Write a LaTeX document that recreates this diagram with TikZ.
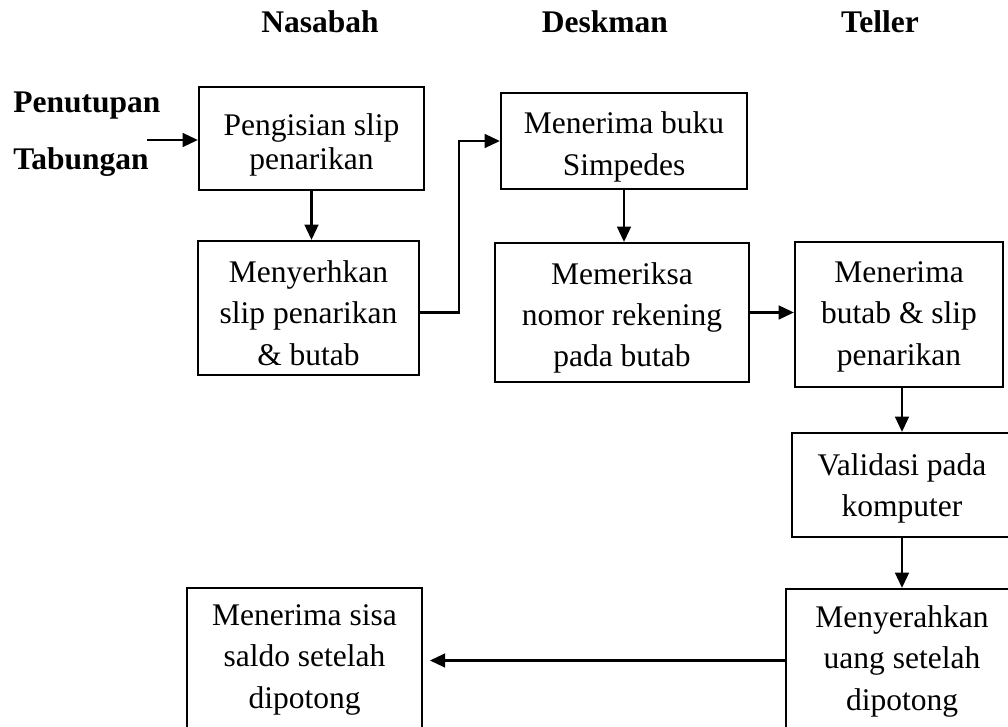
\documentclass[tikz,border=0pt]{standalone}
\usepackage{fontspec}
\setmainfont{Liberation Serif}
\usepackage{tikz}
\usetikzlibrary{positioning,calc,arrows.meta}

\begin{document}
\begin{tikzpicture}[
        x=0.025cm, y=-0.025cm,
        % --- STYLE KOTAK ---
        kotak/.style={
            rectangle,
            draw=black,
            line width=1.5pt,
            align=center,
            inner sep=0pt,
            font=\fontsize{22.4}{29.5}\selectfont
        },
        % Style judul kolom
        judul/.style={
            anchor=base,
            inner sep=0pt,
            font=\fontsize{22.4}{27}\selectfont\bfseries
        },
        % Style panah
        panah/.style={
            draw=black,
            line width=1.8pt,
            -{Triangle[length=0.38cm,width=0.34cm]}
        }
    ]
        \useasboundingbox (0,0) rectangle (1008,727);

        % --- JUDUL KOLOM ---
        \node[judul] (nasabah) at (320,33) {Nasabah};
        \node[judul] (deskman) at (605,33) {Deskman};
        \node[judul] (teller) at (880,33) {Teller};

        \node[judul, anchor=base west] (penutupan) at (13,113) {Penutupan};
        \node[judul, anchor=base west] (tabungan) at (13,170) {Tabungan};
        \coordinate (masuk) at (147,140);

        % --- KOTAK NASABAH ---
        \node[kotak, text height=44.1pt, text depth=0pt,
              minimum width=5.625cm, minimum height=2.575cm,
              font=\fontsize{22.4}{24.5}\selectfont] (b1) at (311.5,138.5)
            {Pengisian slip\\penarikan};
        \node[kotak, text height=81.4pt, text depth=0pt,
              minimum width=5.525cm, minimum height=3.35cm] (b2) at (308.5,308)
            {Menyerhkan\\slip penarikan\\\& butab};
        \node[kotak, text depth=0.175cm,
              minimum width=5.875cm, minimum height=3.6cm] (b8) at (304.5,660)
            {Menerima sisa\\saldo setelah\\dipotong};

        % --- KOTAK DESKMAN ---
        \node[kotak, text height=48.4pt, text depth=0pt,
              minimum width=6.15cm, minimum height=2.4cm] (b3) at (624,141)
            {Menerima buku\\Simpedes};
        \node[kotak, text height=77.5pt, text depth=0pt,
              minimum width=6.35cm, minimum height=3.475cm] (b4) at (622,312.5)
            {Memeriksa\\nomor rekening\\pada butab};

        % --- KOTAK TELLER ---
        \node[kotak, text depth=0.05cm,
              minimum width=5.2cm, minimum height=3.625cm] (b5) at (899,314.5)
            {Menerima\\butab \& slip\\penarikan};
        \node[kotak, text depth=0cm,
              minimum width=5.5cm, minimum height=2.6cm] (b6) at (902,485)
            {Validasi pada\\komputer};
        \node[kotak, text depth=0.125cm,
              minimum width=5.8cm, minimum height=3.575cm] (b7) at (902,660.5)
            {Menyerahkan\\uang setelah\\dipotong};

        % --- PANAH ---
        \draw[panah] (masuk) -- (masuk -| b1.west);
        \draw[panah] (b1.south) -- (b1.south |- b2.north);
        \draw[panah] (b2.east |- b4.west) -- ++(39,0) |- (b3.west);
        \draw[panah] (b3.south) -- (b3.south |- b4.north);
        \draw[panah] (b4.east) -- (b4.east -| b5.west);
        \draw[panah] (b6.north |- b5.south) -- (b6.north);
        \draw[panah] (b6.south) -- (b7.north);
        \draw[panah, shorten >=0.17cm] (b7.west) -- (b7.west -| b8.east);

    \end{tikzpicture}
\end{document}
